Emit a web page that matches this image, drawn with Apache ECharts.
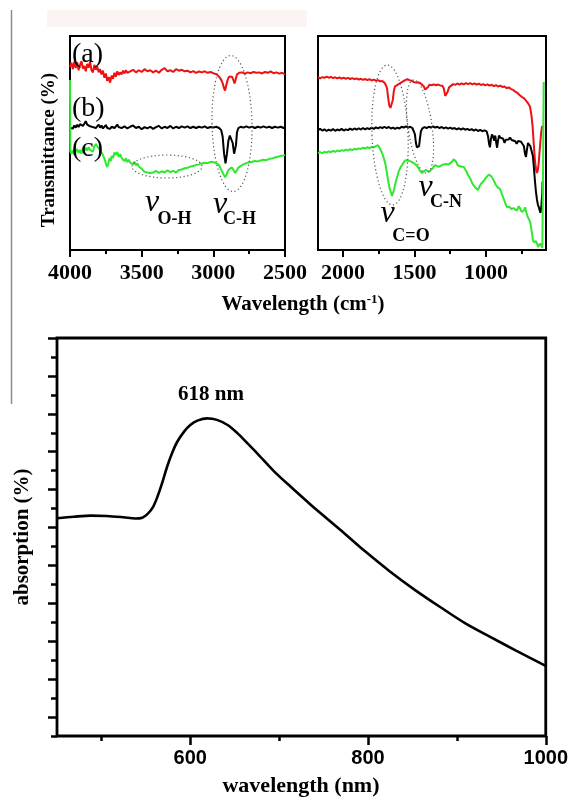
<!DOCTYPE html>
<html><head><meta charset="utf-8">
<script src="https://cdn.jsdelivr.net/npm/echarts@6/dist/echarts.min.js"></script>
<style>html,body{margin:0;padding:0;background:#fff}#c{width:571px;height:797px}</style>
</head><body><div id="c"></div>
<script>
// ---- FTIR, 4000-2500 cm-1 (arbitrary transmittance units, offset traces) ----
const redLeft = [[4000,85.5],[3990,87.5],[3980,84.5],[3970,88],[3960,85],[3950,87.8],[3940,84],[3930,86.5],[3920,88.2],[3910,84.8],[3900,86],[3890,83.5],[3880,87],[3870,85.2],[3860,88],[3850,84],[3840,83],[3830,86.5],[3820,84.2],[3810,85.8],[3800,83],[3790,84.5],[3780,82],[3770,83.8],[3760,80.5],[3750,82.5],[3740,79],[3730,80.8],[3720,78.2],[3710,81.5],[3700,80],[3690,82.8],[3680,81],[3670,83.5],[3660,81.8],[3650,83],[3640,82],[3630,83.8],[3620,82.5],[3610,84],[3600,82.8],[3580,83.5],[3560,84.2],[3540,83],[3520,84],[3500,83.2],[3480,84.5],[3460,83.5],[3440,84],[3420,83],[3400,83.8],[3380,82.8],[3360,84.2],[3340,85],[3320,83.5],[3300,84],[3280,83.2],[3260,84.5],[3240,83.8],[3220,84.2],[3200,83.5],[3180,83.8],[3160,83],[3140,83.6],[3120,82.8],[3100,83.4],[3080,83],[3060,83.5],[3040,82.8],[3020,83.2],[3000,82.6],[2980,82.2],[2960,81],[2945,79.5],[2935,78],[2925,75.5],[2918,74.5],[2910,77],[2900,79.5],[2890,81],[2880,81.6],[2870,81],[2860,79.5],[2852,77.8],[2845,79.5],[2835,82],[2820,82.8],[2800,83],[2780,82.4],[2760,83],[2740,82.6],[2720,83.2],[2700,82.8],[2680,83],[2660,82.5],[2640,83.2],[2620,82.8],[2600,83.5],[2580,82.6],[2560,83],[2540,82.4],[2520,82.8],[2500,82.2]];
const blackLeft = [[4000,57],[3990,57.8],[3980,56.8],[3970,58.2],[3960,57.2],[3950,58.5],[3940,57.5],[3930,58.8],[3920,59.5],[3910,58],[3900,59],[3890,60.2],[3880,58.6],[3870,59.2],[3860,57.8],[3850,58.5],[3840,57.4],[3830,58.2],[3820,57],[3810,57.8],[3800,58.6],[3790,57.2],[3780,58.2],[3770,56.8],[3760,57.6],[3750,58.4],[3740,57],[3730,57.8],[3720,56.6],[3710,57.6],[3700,58.2],[3690,57],[3680,57.8],[3670,58.6],[3660,57.4],[3650,58],[3640,57],[3620,57.8],[3600,56.8],[3580,57.6],[3560,58.2],[3540,57],[3520,57.6],[3500,56.4],[3480,57.4],[3460,56.8],[3440,57.6],[3420,56.6],[3400,57.4],[3380,58],[3360,56.8],[3340,57.6],[3320,57],[3300,58],[3280,56.8],[3260,57.6],[3240,57],[3220,57.8],[3200,57.2],[3180,57.8],[3160,57],[3140,57.6],[3120,57],[3100,57.6],[3080,57.2],[3060,57.8],[3040,57],[3020,57.5],[3000,57.2],[2980,57.6],[2960,57],[2945,56],[2935,53],[2925,45],[2915,40.5],[2905,45],[2895,51],[2885,53.5],[2875,53],[2865,50],[2855,45],[2849,44.2],[2842,49],[2835,55],[2825,57],[2810,57.6],[2790,57.2],[2770,57.8],[2750,57.2],[2730,57.6],[2710,57],[2690,57.6],[2670,57.2],[2650,57.8],[2630,57.2],[2610,57.6],[2590,57],[2570,57.6],[2550,57.2],[2530,57.6],[2510,57],[2500,57.4]];
const greenLeft = [[4000,79.4],[3998,46],[3990,45],[3980,46.5],[3970,44.5],[3960,46],[3950,47.2],[3940,45.5],[3930,46.8],[3920,45],[3910,47.5],[3900,46.2],[3890,47.8],[3880,46.5],[3870,48],[3860,46.8],[3850,47.5],[3840,46],[3830,48.5],[3820,49.5],[3812,50],[3805,48],[3795,47.5],[3785,46],[3775,45],[3765,43.5],[3756,42],[3748,40],[3740,38.8],[3732,40.5],[3724,43],[3716,41.5],[3708,44],[3700,43],[3690,45.5],[3680,44.5],[3670,45.8],[3660,43.5],[3650,44.8],[3640,43],[3630,43.5],[3620,41.5],[3610,42.8],[3600,41],[3590,42.2],[3580,40.8],[3570,41.5],[3560,40],[3550,41.2],[3540,39.5],[3530,40.5],[3520,39],[3510,39.8],[3500,38],[3490,37.2],[3480,36.5],[3470,37.2],[3460,36.2],[3450,37],[3440,36],[3430,36.8],[3420,36.2],[3400,37],[3380,36],[3360,36.8],[3340,36.2],[3320,37.2],[3300,36.4],[3280,37],[3260,36.2],[3240,37.4],[3220,37.6],[3200,38.2],[3180,38.4],[3160,39],[3140,39.2],[3120,39.8],[3100,40],[3080,40.4],[3060,40.8],[3040,40.6],[3020,41.2],[3000,41],[2980,40.6],[2960,39.6],[2945,37.5],[2930,35.5],[2918,34],[2908,35],[2898,37],[2885,38],[2870,38.6],[2860,37.5],[2848,36],[2838,37],[2825,38.5],[2810,39.2],[2790,40],[2770,40.6],[2750,41],[2730,41.2],[2710,41.6],[2690,41.4],[2670,41.8],[2650,42.2],[2630,42],[2610,42.6],[2590,42.8],[2570,43.2],[2550,43.6],[2530,44],[2510,44.2],[2500,44.4]];
// ---- FTIR, 2175-580 cm-1 ----
const redRight = [[2175,80.8],[2160,80.2],[2145,80.8],[2130,80.4],[2115,81],[2100,80.5],[2085,80.9],[2070,80.3],[2055,80.7],[2040,80.2],[2025,80.6],[2010,80.1],[1995,80.5],[1980,80],[1965,80.4],[1950,79.9],[1935,80.3],[1920,79.8],[1905,80.2],[1890,79.6],[1875,80],[1860,79.5],[1845,79.9],[1830,79.4],[1815,79.8],[1800,79.2],[1785,79.6],[1770,79.1],[1755,79.4],[1740,78.8],[1725,79],[1710,78.2],[1700,77],[1692,75.5],[1684,71],[1676,67.5],[1668,66.4],[1660,66.8],[1652,70],[1644,74.5],[1636,76.5],[1622,77],[1608,77.6],[1595,78.2],[1580,78.8],[1565,79.4],[1550,79.8],[1535,79.4],[1520,79],[1505,78.5],[1490,78.2],[1475,78.4],[1460,78],[1448,77.6],[1435,76.5],[1425,75],[1415,74.8],[1405,76.2],[1395,77.2],[1380,77],[1365,77.4],[1350,77],[1335,77.3],[1320,76.9],[1305,76.8],[1295,75.5],[1285,72],[1277,71.5],[1268,74],[1258,76],[1245,76.8],[1230,77.5],[1215,77.2],[1200,77.8],[1185,77.3],[1170,77.9],[1155,77.4],[1140,78],[1125,77.5],[1110,78],[1095,77.4],[1080,77.9],[1065,77.3],[1050,77.7],[1035,77.1],[1020,77.5],[1005,76.9],[990,77.4],[975,76.8],[960,77.2],[945,76.6],[930,77],[915,76.4],[900,76.8],[885,76.2],[870,76.4],[855,75.6],[840,76],[825,75.2],[810,74.8],[795,74],[780,73.4],[765,72.4],[750,71.6],[735,71],[720,69.8],[705,68.5],[692,67],[682,63],[674,58],[668,52],[662,46],[656,41],[650,38],[644,36],[638,37],[632,40],[626,45],[620,50],[614,55],[608,57.5],[605,58]];
const blackRight = [[2175,56],[2160,56.6],[2145,55.8],[2130,56.4],[2115,55.6],[2100,56.2],[2085,55.8],[2070,56.5],[2055,55.7],[2040,56.3],[2025,55.9],[2010,56.6],[1995,55.8],[1980,56.4],[1965,56],[1950,56.7],[1935,56.1],[1920,56.8],[1905,56.2],[1890,56.9],[1875,56.3],[1860,57],[1845,56.4],[1830,57],[1815,56.5],[1800,57.2],[1785,56.6],[1770,57.3],[1755,56.8],[1740,57.4],[1725,57],[1710,57.6],[1695,57],[1680,57.5],[1665,56.8],[1650,57.2],[1635,56.6],[1620,57.2],[1605,56.8],[1590,57.6],[1575,57.2],[1560,57.8],[1545,57.2],[1530,57.6],[1515,57],[1505,55.5],[1497,54],[1490,50],[1483,48],[1476,47.8],[1468,48.5],[1462,52],[1455,55.5],[1445,56.8],[1430,57.4],[1415,57],[1400,57.6],[1385,57.2],[1370,57.8],[1355,57.2],[1340,57.6],[1325,57],[1310,57.5],[1295,56.8],[1280,57.3],[1265,56.7],[1250,57.2],[1235,56.6],[1220,57],[1205,56.4],[1190,56.9],[1175,56.3],[1160,56.8],[1145,56.2],[1130,56.6],[1115,56],[1100,56.5],[1085,55.8],[1070,56.3],[1055,55.6],[1040,56.1],[1025,55.5],[1010,55.9],[995,55.4],[985,53],[978,49.5],[972,48],[966,51.5],[958,54],[950,53],[942,51],[935,53.5],[928,50],[922,47.8],[916,51],[908,53.5],[900,52.5],[890,53.4],[880,52],[870,50],[862,51.5],[852,52.4],[842,51.6],[832,52.6],[820,51.4],[808,52.2],[795,50.8],[785,49.6],[775,51],[765,51.8],[755,50.6],[745,51.4],[735,48.6],[727,45],[720,43.5],[713,47],[706,50],[698,49.2],[690,48.6],[680,49],[672,44],[665,38.8],[657,32],[650,27],[643,23.4],[636,21],[630,20],[624,18.5],[618,17.3],[612,21],[606,26.6],[604,32]];
const greenRight = [[2175,45.3],[2160,45.8],[2145,45.2],[2130,45.9],[2115,45.5],[2100,46.1],[2085,45.7],[2070,46.3],[2055,45.9],[2040,46.5],[2025,46.1],[2010,46.7],[1995,46.3],[1980,46.9],[1965,46.5],[1950,47.1],[1935,46.7],[1920,47.3],[1905,46.9],[1890,47.5],[1875,47.2],[1860,47.8],[1845,47.4],[1830,48],[1815,47.6],[1800,48.2],[1785,47.9],[1770,48.5],[1755,49],[1745,48.2],[1735,46.5],[1725,45],[1715,43],[1705,40.6],[1695,37],[1685,32.7],[1675,29],[1665,27],[1657,25.2],[1650,25.8],[1642,28.5],[1632,31.5],[1622,34],[1610,36.8],[1598,38.6],[1587,39.7],[1575,41],[1562,42],[1550,42.2],[1535,41.6],[1520,41.2],[1510,41.4],[1500,40.4],[1490,39.6],[1476,38.8],[1462,37],[1448,36],[1435,36.4],[1422,37.4],[1410,37.2],[1398,36.6],[1385,37],[1372,38.2],[1358,39.7],[1345,39.4],[1330,38.8],[1318,39.2],[1305,39.8],[1292,40.4],[1280,40.2],[1273,41],[1262,40],[1250,39.5],[1238,41.2],[1226,42.4],[1217,43],[1208,41.2],[1198,39.6],[1186,40.4],[1175,39],[1166,38.3],[1155,38.8],[1145,37.6],[1135,36.6],[1126,35],[1115,34],[1105,32.6],[1095,31],[1085,30.2],[1075,29.2],[1065,28.4],[1056,28],[1046,29.6],[1036,30.8],[1025,31.5],[1012,32.6],[1000,33.8],[990,34.6],[980,35.2],[972,35],[962,34.4],[952,33.6],[942,32],[932,30.5],[920,29.4],[910,29],[902,28.6],[890,26.5],[880,24.6],[870,22.8],[860,21],[853,20],[845,19.4],[835,20.2],[825,19.2],[815,20],[805,19.5],[795,18.8],[785,18.4],[776,18.7],[770,20.5],[764,21.2],[758,19],[750,17.8],[741,17.3],[733,18.6],[726,20],[718,17.6],[710,15.8],[699,15.4],[690,13],[683,10],[678,8],[672,4.8],[664,3.6],[657,3.3],[650,4.2],[643,3],[636,1.4],[628,1.8],[620,3],[612,2],[605,1],[598,0.6],[596,78.5]];
// ---- UV-Vis absorption (arbitrary units) ----
const uvWavelength = [450,469,488,506,525,538,546,552,558,563,568,574,580,585,593,600,608,619,630,642,653,664,675,694,713,732,741,769,797,825,853,882,910,938,966,1000];
const uvAbsorption = [11.49,11.57,11.63,11.61,11.54,11.48,11.52,11.72,12.08,12.62,13.3,14.22,14.98,15.5,16.06,16.41,16.64,16.76,16.68,16.41,15.98,15.46,14.93,13.98,13.15,12.35,11.98,10.87,9.73,8.67,7.7,6.78,5.93,5.22,4.52,3.7];
// ---- ticks ----
const topLeftTicks = [4000,3500,3000,2500];
const topLeftMinor = [3750,3250,2750];
const topRightTicks = [2000,1500,1000];
const topRightMinor = [1750,1250,750];
const uvXTicks = [600,800,1000];
const uvXMinor = [500,700,900];
const uvYLong = [1,3,5,7,9,11,13,15,17,19,21];
const uvYShort = [0,2,4,6,8,10,12,14,16,18,20];

const SERIF = "'Liberation Serif', 'Times New Roman', serif";
const SANS = "'Liberation Sans', Arial, sans-serif";
const RED = '#ee1111', GREEN = '#2fe82f', BLACK = '#000';

const chart = echarts.init(document.getElementById('c'), null, {renderer: 'canvas'});

function xAx(grid, min, max, inv, ticks, len, width, label) {
  return {
    gridIndex: grid, type: 'value', min: min, max: max, inverse: inv, position: 'bottom',
    axisLine: {show: false}, splitLine: {show: false},
    axisTick: {show: true, customValues: ticks, length: len, lineStyle: {color: '#000', width: width}},
    axisLabel: label ? Object.assign({customValues: ticks, color: '#000', formatter: v => String(v)}, label) : {show: false}
  };
}
function yAx(grid, min, max, ticks, len, show) {
  if (!show) return {gridIndex: grid, type: 'value', min: min, max: max, show: false};
  return {
    gridIndex: grid, type: 'value', min: min, max: max, position: 'left',
    axisLine: {show: false}, splitLine: {show: false},
    axisTick: {show: true, customValues: ticks, length: len, lineStyle: {color: '#000', width: 2.5}},
    axisLabel: {show: false}
  };
}
const topLabel = {margin: 12, fontFamily: SERIF, fontWeight: 'bold', fontSize: 22};
const botLabel = {margin: 12, fontFamily: SANS, fontWeight: 'bold', fontSize: 20};

function ln(xi, yi, data, color, w, smooth) {
  return {type: 'line', xAxisIndex: xi, yAxisIndex: yi, data: data, symbol: 'none', smooth: smooth || false,
    lineStyle: {color: color, width: w}, itemStyle: {color: color}, animation: false};
}

const T = (x, y, text, font, opts) => Object.assign({type: 'text', x: x, y: y, z: 100,
  style: Object.assign({text: text, font: font, fill: '#000', align: 'center', verticalAlign: 'middle'}, opts || {})});
const E = (cx, cy, rx, ry, rot) => ({type: 'ellipse', z: 90, x: cx, y: cy, rotation: rot || 0,
  shape: {cx: 0, cy: 0, rx: rx, ry: ry},
  style: {fill: 'none', stroke: '#555', lineWidth: 1.2, lineDash: [1.2, 2.6]}});

const option = {
  animation: false,
  backgroundColor: '#fff',
  grid: [
    {left: 70, top: 36, width: 215, height: 214, show: true, borderColor: '#000', borderWidth: 2, backgroundColor: 'transparent'},
    {left: 318, top: 36, width: 228, height: 214, show: true, borderColor: '#000', borderWidth: 2, backgroundColor: 'transparent'},
    {left: 57, top: 338, width: 489, height: 398, show: true, borderColor: '#000', borderWidth: 2.8, backgroundColor: 'transparent'}
  ],
  xAxis: [
    xAx(0, 2500, 4000, true, topLeftTicks, 7, 2, topLabel),
    xAx(0, 2500, 4000, true, topLeftMinor, 4, 2, null),
    xAx(1, 580, 2175, true, topRightTicks, 7, 2, topLabel),
    xAx(1, 580, 2175, true, topRightMinor, 4, 2, null),
    xAx(2, 450, 1000, false, uvXTicks, 9, 2.5, botLabel),
    xAx(2, 450, 1000, false, uvXMinor, 5, 2.5, null)
  ],
  yAxis: [
    yAx(0, 0, 100, null, 0, false),
    yAx(1, 0, 100, null, 0, false),
    yAx(2, 0, 21, uvYShort, 6, true),
    yAx(2, 0, 21, uvYLong, 9, true)
  ],
  series: [
    ln(0, 0, redLeft, RED, 2),
    ln(0, 0, blackLeft, BLACK, 2),
    ln(0, 0, greenLeft, GREEN, 2),
    ln(2, 1, redRight, RED, 2),
    ln(2, 1, blackRight, BLACK, 2),
    ln(2, 1, greenRight, GREEN, 2),
    ln(4, 2, uvWavelength.map((w, i) => [w, uvAbsorption[i]]), BLACK, 2.6, 0.3)
  ],
  graphic: {elements: [
    {type: 'rect', z: 0, shape: {x: 47, y: 10, width: 260, height: 17}, style: {fill: '#fcf3f3'}},
    {type: 'line', z: 100, shape: {x1: 11.5, y1: 10, x2: 11.5, y2: 404}, style: {stroke: '#8c8c8c', lineWidth: 1.5}},
    T(72, 55, '(a)', '28px ' + SERIF, {align: 'left'}),
    T(72, 109, '(b)', '28px ' + SERIF, {align: 'left'}),
    T(72, 149, '(c)', '28px ' + SERIF, {align: 'left'}),
    E(167, 166.5, 35, 11.5, 0),
    E(232, 123.5, 20, 68, 0.02),
    E(390, 135, 18, 70, 0.04),
    E(420, 126.5, 12, 47, 0.14),
    T(152, 203, 'ν', 'italic 32px ' + SERIF),
    T(174.5, 219.5, 'O-H', 'bold 18px ' + SERIF),
    T(220, 205, 'ν', 'italic 32px ' + SERIF),
    T(239.5, 219.5, 'C-H', 'bold 18px ' + SERIF),
    T(387.5, 214, 'ν', 'italic 32px ' + SERIF),
    T(411, 236.5, 'C=O', 'bold 18px ' + SERIF),
    T(425.5, 188, 'ν', 'italic 32px ' + SERIF),
    T(446, 202.5, 'C-N', 'bold 18px ' + SERIF),
    T(49, 150, 'Transmittance (%)', 'bold 19px ' + SERIF, {}),
    {type: 'text', x: 303, y: 305, z: 100, style: {
      text: 'Wavelength (cm{sup|-1})', font: 'bold 21px ' + SERIF, fill: '#000', align: 'center', verticalAlign: 'middle',
      rich: {sup: {fontFamily: SERIF, fontWeight: 'bold', fontSize: 13, verticalAlign: 'top', padding: [0, 0, 10, 0]}}}},
    T(211, 395, '618 nm', 'bold 21px ' + SERIF),
    T(22.5, 537, 'absorption (%)', 'bold 21px ' + SERIF),
    T(301, 786, 'wavelength (nm)', 'bold 22px ' + SERIF)
  ]}
};
// rotate the vertical axis titles
option.graphic.elements.forEach(el => {
  if (el.style && (el.style.text === 'Transmittance (%)' || el.style.text === 'absorption (%)')) el.rotation = Math.PI / 2;
});
chart.setOption(option);
</script></body></html>
